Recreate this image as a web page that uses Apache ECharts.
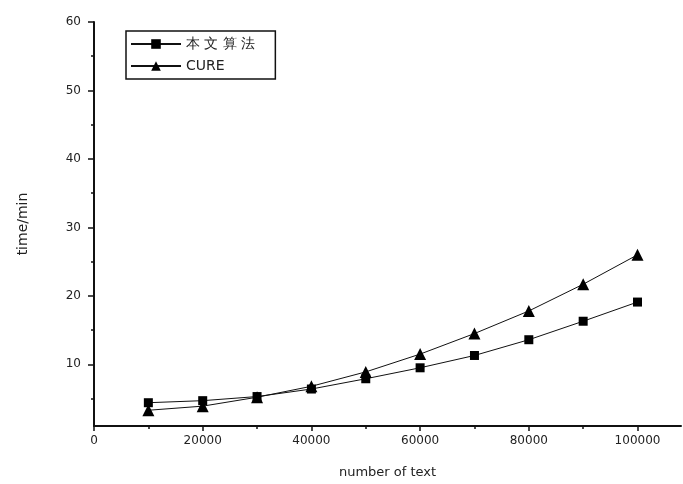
<!DOCTYPE html>
<html><head><meta charset="utf-8">
<script src="https://cdn.jsdelivr.net/npm/echarts@6/dist/echarts.min.js"></script>
<style>html,body{margin:0;padding:0;background:#fff}#c{width:683px;height:484px}</style>
</head><body><div id="c"></div>
<script>
const xValues = [10000, 20000, 30000, 40000, 50000, 60000, 70000, 80000, 90000, 100000];
const oursValues = [4.4, 4.7, 5.3, 6.4, 7.9, 9.5, 11.3, 13.6, 16.3, 19.1];
const cureValues = [3.3, 3.9, 5.2, 6.8, 8.9, 11.5, 14.5, 17.8, 21.7, 26.0];
const seriesNames = ['本 文 算 法', 'CURE'];
const xMajorTicks = [0, 20000, 40000, 60000, 80000, 100000];
const xMinorTicks = [10000, 30000, 50000, 70000, 90000];
const yMajorTicks = [10, 20, 30, 40, 50, 60];
const yMinorTicks = [5, 15, 25, 35, 45, 55];

const font = 'DejaVu Sans, Liberation Sans, sans-serif';
const axisBase = () => ({
  type: 'value', splitLine: {show: false},
  axisLine: {show: true, onZero: false, lineStyle: {color: '#111', width: 2}}
});
const chart = echarts.init(document.getElementById('c'));
chart.setOption({
  animation: false,
  backgroundColor: '#fff',
  grid: {left: 94, right: 2, top: 22, bottom: 58, containLabel: false},
  legend: {
    orient: 'vertical', left: 126, top: 31,
    itemWidth: 50, itemHeight: 12, itemGap: 8,
    padding: [6, 20, 6, 4],
    borderColor: '#111', borderWidth: 1.5,
    textStyle: {fontFamily: font, fontSize: 14, color: '#222'},
    data: seriesNames
  },
  xAxis: [
    Object.assign(axisBase(), {
      min: 0, max: 108000,
      name: 'number of text', nameLocation: 'middle', nameGap: 40,
      nameTextStyle: {fontFamily: font, fontSize: 13, color: '#222'},
      axisTick: {show: true, inside: false, length: 5, lineStyle: {color: '#111', width: 1.5}, customValues: xMajorTicks},
      axisLabel: {fontFamily: font, fontSize: 12, color: '#222', margin: 9, customValues: xMajorTicks, formatter: v => String(v)}
    }),
    {type: 'value', min: 0, max: 108000, position: 'bottom', splitLine: {show: false},
     axisLine: {show: false, onZero: false}, axisLabel: {show: false},
     axisTick: {show: true, length: 3, lineStyle: {color: '#111', width: 1.5}, customValues: xMinorTicks}}
  ],
  yAxis: [
    Object.assign(axisBase(), {
      min: 1, max: 60,
      name: 'time/min', nameLocation: 'middle', nameGap: 64, nameRotate: 90,
      nameTextStyle: {fontFamily: font, fontSize: 14, color: '#222'},
      axisTick: {show: true, inside: false, length: 6, lineStyle: {color: '#111', width: 1.5}, customValues: yMajorTicks},
      axisLabel: {fontFamily: font, fontSize: 12, color: '#222', margin: 13, customValues: yMajorTicks}
    }),
    {type: 'value', min: 1, max: 60, position: 'left', splitLine: {show: false},
     axisLine: {show: false, onZero: false}, axisLabel: {show: false},
     axisTick: {show: true, length: 3, lineStyle: {color: '#111', width: 1.5}, customValues: yMinorTicks}}
  ],
  series: [
    {name: seriesNames[0], type: 'line', symbol: 'rect', symbolSize: 9,
     lineStyle: {color: '#111', width: 1}, itemStyle: {color: '#000'},
     data: xValues.map((x, i) => [x, oursValues[i]])},
    {name: seriesNames[1], type: 'line', symbol: 'triangle', symbolSize: 12,
     lineStyle: {color: '#111', width: 1}, itemStyle: {color: '#000'},
     data: xValues.map((x, i) => [x, cureValues[i]])}
  ]
});
</script></body></html>
